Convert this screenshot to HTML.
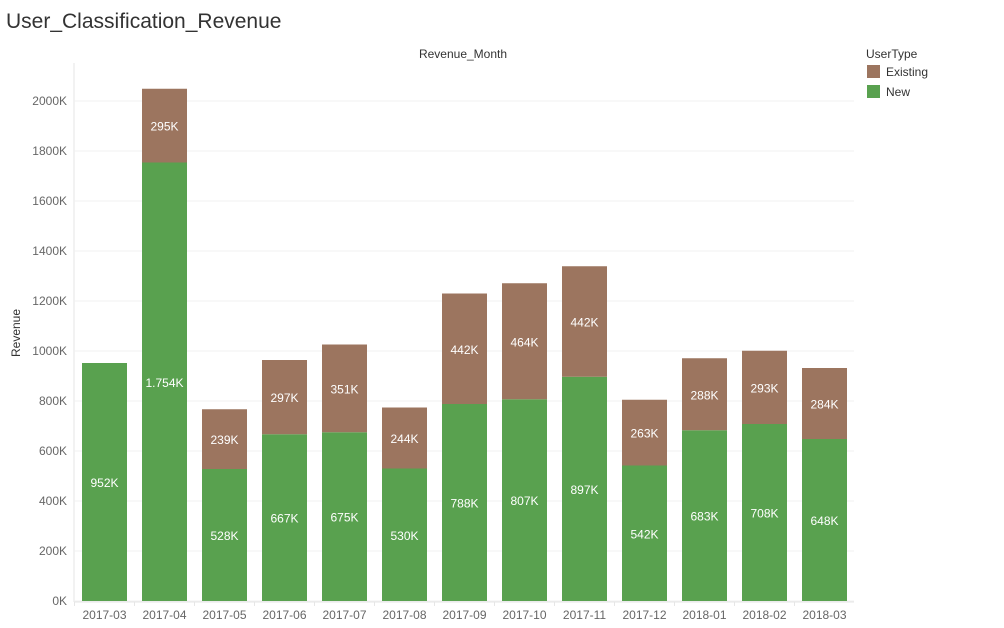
<!DOCTYPE html>
<html><head><meta charset="utf-8"><style>
body{margin:0;background:#fff;font-family:"Liberation Sans",sans-serif;}
</style></head><body>
<svg width="1004" height="623" xmlns="http://www.w3.org/2000/svg" font-family="Liberation Sans, sans-serif">
<text x="6" y="28" font-size="21" fill="#333">User_Classification_Revenue</text>
<text x="463" y="58" font-size="12" fill="#333" text-anchor="middle">Revenue_Month</text>
<text transform="translate(20,333) rotate(-90)" font-size="12" fill="#333" text-anchor="middle">Revenue</text>
<g id="grid"></g><g id="bars"></g><g id="xl"></g>
<g>
<text x="866" y="58" font-size="12" fill="#333">UserType</text>
<rect x="867" y="65" width="13" height="13" fill="#9c755f"/>
<text x="886" y="76" font-size="12" fill="#333">Existing</text>
<rect x="867" y="85" width="13" height="13" fill="#59a14f"/>
<text x="886" y="96" font-size="12" fill="#333">New</text>
</g>
</svg>
<script>
const categories=["2017-03","2017-04","2017-05","2017-06","2017-07","2017-08","2017-09","2017-10","2017-11","2017-12","2018-01","2018-02","2018-03"];
const newValues=[952,1754,528,667,675,530,788,807,897,542,683,708,648];
const existingValues=[0,295,239,297,351,244,442,464,442,263,288,293,284];
const newLabels=["952K","1.754K","528K","667K","675K","530K","788K","807K","897K","542K","683K","708K","648K"];
const existingLabels=["","295K","239K","297K","351K","244K","442K","464K","442K","263K","288K","293K","284K"];
const yTicks=[0,200,400,600,800,1000,1200,1400,1600,1800,2000];
const NS="http://www.w3.org/2000/svg";
const y=v=>601-v*0.25;
const x=i=>82+60*i;
function mk(p,t,a){const e=document.createElementNS(NS,t);for(const k in a)e.setAttribute(k,a[k]);p.appendChild(e);return e;}
const g=document.getElementById('grid'),b=document.getElementById('bars'),xl=document.getElementById('xl');
mk(g,'line',{x1:74,y1:63,x2:74,y2:602,stroke:'#e6e6e6'});
mk(g,'line',{x1:74,y1:602,x2:854,y2:602,stroke:'#e6e6e6'});
yTicks.forEach(v=>{
 const l=mk(g,'line',{x1:74,y1:y(v),x2:854,y2:y(v),stroke:'#f0f0f0'});
 
 
 const t=mk(g,'text',{x:67,y:y(v)+4,'font-size':12,fill:'#666','text-anchor':'end'});t.textContent=v+'K';
 
 
});
categories.forEach((c,i)=>{
 const n=newValues[i],e=existingValues[i];
 const rn=mk(b,'rect',{x:x(i),y:y(n),width:45,height:n*0.25,fill:'#59a14f'});
 
 
 const re=mk(b,'rect',{x:x(i),y:y(n+e),width:45,height:e*0.25,fill:'#9c755f'});
 
 
 const tn=mk(b,'text',{x:x(i)+22.5,y:y(n/2)+5,'font-size':12,fill:'#fff','text-anchor':'middle'});tn.textContent=newLabels[i];
 
 
 if(e>0){const te=mk(b,'text',{x:x(i)+22.5,y:y(n+e/2)+5,'font-size':12,fill:'#fff','text-anchor':'middle'});te.textContent=existingLabels[i];
 
 }
 mk(xl,'line',{x1:x(i)-7.5,y1:602,x2:x(i)-7.5,y2:606,stroke:'#e6e6e6'});
 const tx=mk(xl,'text',{x:x(i)+22.5,y:619,'font-size':12,fill:'#666','text-anchor':'middle'});tx.textContent=c;
 
 
});
</script>
</body></html>
